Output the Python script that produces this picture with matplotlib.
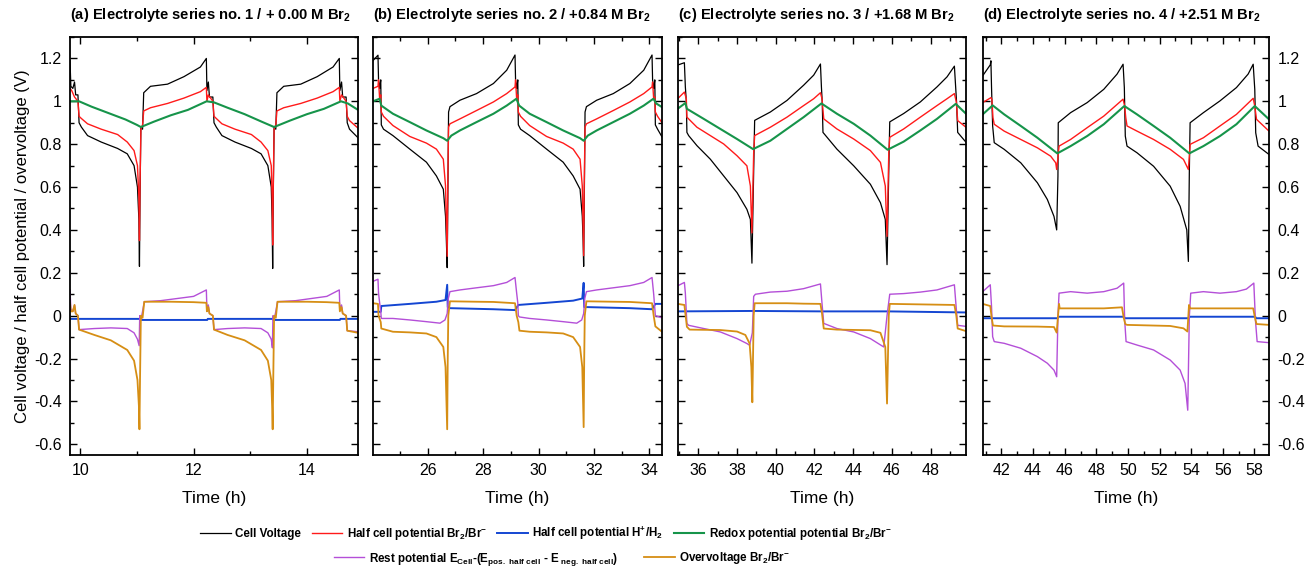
import numpy as np
import matplotlib
matplotlib.use("Agg")
import matplotlib.pyplot as plt
from matplotlib.ticker import MultipleLocator, FormatStrFormatter

plt.rcParams['font.family'] = ['Liberation Sans', 'DejaVu Sans']
plt.rcParams['mathtext.fontset'] = 'custom'
plt.rcParams['mathtext.rm'] = 'Liberation Sans'
plt.rcParams['mathtext.bf'] = 'Liberation Sans:bold'
plt.rcParams['axes.unicode_minus'] = False

# ---- panel (a): electrolyte series no. 1 ----
a_cell = [(9.82, 1.19), (9.835, 1.07), (9.87, 1.06), (9.90, 1.09), (9.92, 1.03), (9.96, 1.03), (9.98, 0.90),
          (10.02, 0.88), (10.13, 0.84), (10.37, 0.81), (10.66, 0.78), (10.83, 0.755), (10.95, 0.70), (11.01, 0.60),
          (11.035, 0.45), (11.045, 0.23), (11.055, 0.55), (11.07, 0.88), (11.10, 0.87), (11.12, 1.04), (11.24, 1.07),
          (11.54, 1.08), (11.83, 1.115), (12.12, 1.16), (12.225, 1.20), (12.235, 1.05), (12.26, 1.09), (12.28, 1.02),
          (12.34, 1.02), (12.36, 0.90), (12.40, 0.88), (12.50, 0.84), (12.73, 0.81), (13.02, 0.78), (13.19, 0.755),
          (13.31, 0.70), (13.37, 0.60), (13.385, 0.45), (13.395, 0.22), (13.405, 0.55), (13.42, 0.88), (13.45, 0.87),
          (13.47, 1.04), (13.59, 1.07), (13.89, 1.08), (14.18, 1.115), (14.46, 1.16), (14.57, 1.20), (14.58, 1.05),
          (14.61, 1.09), (14.63, 1.02), (14.69, 1.02), (14.71, 0.90), (14.75, 0.87), (14.9, 0.83)]
a_half_br = [(9.82, 1.06), (9.85, 1.05), (9.90, 1.02), (9.96, 1.0), (9.98, 0.93), (10.02, 0.92), (10.13, 0.895),
             (10.37, 0.87), (10.66, 0.845), (10.83, 0.81), (10.95, 0.77), (11.01, 0.70), (11.035, 0.55), (11.045, 0.35),
             (11.055, 0.6), (11.07, 0.87), (11.10, 0.89), (11.12, 0.955), (11.24, 0.97), (11.54, 0.99), (11.83, 1.015),
             (12.12, 1.045), (12.225, 1.065), (12.235, 1.0), (12.26, 1.03), (12.34, 1.0), (12.36, 0.93), (12.40, 0.92),
             (12.50, 0.895), (12.73, 0.87), (13.02, 0.845), (13.19, 0.81), (13.31, 0.77), (13.37, 0.70), (13.385, 0.55),
             (13.395, 0.33), (13.405, 0.6), (13.42, 0.87), (13.45, 0.89), (13.47, 0.955), (13.59, 0.97), (13.89, 0.99),
             (14.18, 1.015), (14.46, 1.045), (14.57, 1.065), (14.58, 1.0), (14.61, 1.03), (14.69, 1.0), (14.71, 0.93),
             (14.75, 0.91), (14.9, 0.875)]
a_half_h = [(9.82, -0.015), (11.05, -0.015), (11.06, -0.02), (12.24, -0.02), (12.25, -0.015), (13.40, -0.015),
            (13.41, -0.02), (14.58, -0.02), (14.59, -0.015), (14.9, -0.015)]
a_redox = [(9.82, 1.0), (9.98, 1.0), (10.2, 0.975), (10.5, 0.945), (10.8, 0.915), (11.0, 0.89), (11.07, 0.88),
           (11.3, 0.905), (11.6, 0.935), (11.9, 0.96), (12.23, 1.0), (12.36, 0.995), (12.6, 0.97), (12.9, 0.94),
           (13.2, 0.905), (13.42, 0.88), (13.7, 0.91), (14.0, 0.94), (14.3, 0.965), (14.6, 1.0), (14.72, 0.99),
           (14.9, 0.96)]
a_rest = [(9.82, 0.12), (9.835, 0.03), (9.87, 0.02), (9.90, 0.05), (9.92, 0.01), (9.96, 0.0), (9.98, -0.065),
          (10.25, -0.06), (10.54, -0.057), (10.83, -0.06), (10.95, -0.08), (11.01, -0.11), (11.04, -0.14),
          (11.05, 0.0), (11.07, -0.02), (11.10, 0.02), (11.13, 0.065), (11.42, 0.07), (12.0, 0.09), (12.225, 0.12),
          (12.235, 0.03), (12.26, 0.05), (12.28, 0.01), (12.34, 0.0), (12.36, -0.065), (12.6, -0.06), (12.9, -0.057),
          (13.19, -0.06), (13.31, -0.08), (13.37, -0.11), (13.39, -0.15), (13.40, 0.0), (13.42, -0.02), (13.45, 0.02),
          (13.48, 0.065), (13.8, 0.07), (14.35, 0.09), (14.57, 0.12), (14.58, 0.03), (14.61, 0.05), (14.63, 0.01),
          (14.69, 0.0), (14.71, -0.07), (14.9, -0.075)]
a_over = [(9.82, 0.06), (9.835, 0.02), (9.87, 0.02), (9.90, 0.05), (9.92, 0.01), (9.96, 0.0), (9.98, -0.065),
          (10.25, -0.09), (10.54, -0.115), (10.83, -0.16), (10.95, -0.21), (11.01, -0.30), (11.035, -0.42),
          (11.045, -0.53), (11.055, -0.30), (11.07, 0.0), (11.10, -0.01), (11.13, 0.065), (11.6, 0.065),
          (12.0, 0.063), (12.225, 0.06), (12.235, 0.02), (12.26, 0.04), (12.28, 0.01), (12.34, 0.0), (12.36, -0.065),
          (12.6, -0.09), (12.9, -0.115), (13.19, -0.16), (13.31, -0.21), (13.37, -0.30), (13.385, -0.42),
          (13.395, -0.53), (13.405, -0.30), (13.42, 0.0), (13.45, -0.01), (13.48, 0.065), (14.0, 0.065),
          (14.35, 0.063), (14.57, 0.06), (14.58, 0.02), (14.61, 0.04), (14.63, 0.01), (14.69, 0.0), (14.71, -0.07),
          (14.9, -0.08)]

# ---- panel (b): electrolyte series no. 2 ----
b_cell = [(24.02, 1.19), (24.2, 1.215), (24.22, 1.10), (24.26, 1.06), (24.30, 1.10), (24.32, 0.89), (24.4, 0.87),
          (24.74, 0.84), (25.35, 0.777), (25.95, 0.716), (26.31, 0.652), (26.56, 0.59), (26.64, 0.464), (26.67, 0.35),
          (26.70, 0.224), (26.72, 0.5), (26.75, 0.95), (26.80, 0.975), (27.16, 1.005), (27.76, 1.036), (28.37, 1.083),
          (28.85, 1.145), (29.15, 1.216), (29.17, 1.10), (29.21, 1.06), (29.25, 1.10), (29.27, 0.89), (29.35, 0.87),
          (29.68, 0.84), (30.29, 0.777), (30.89, 0.716), (31.25, 0.652), (31.50, 0.59), (31.58, 0.464), (31.61, 0.35),
          (31.63, 0.23), (31.65, 0.5), (31.68, 0.95), (31.73, 0.975), (32.1, 1.005), (32.7, 1.036), (33.3, 1.083),
          (33.8, 1.145), (34.1, 1.216), (34.12, 1.10), (34.16, 1.06), (34.2, 1.10), (34.22, 0.89), (34.3, 0.87),
          (34.46, 0.834)]
b_half_br = [(24.02, 1.06), (24.2, 1.07), (24.22, 1.10), (24.26, 1.01), (24.30, 1.03), (24.32, 0.95), (24.4, 0.93),
             (24.74, 0.887), (25.35, 0.836), (25.95, 0.805), (26.31, 0.777), (26.56, 0.73), (26.64, 0.605),
             (26.70, 0.277), (26.72, 0.6), (26.75, 0.88), (26.80, 0.895), (27.16, 0.918), (27.76, 0.957),
             (28.37, 0.997), (28.85, 1.036), (29.15, 1.067), (29.17, 1.10), (29.21, 1.01), (29.25, 1.03), (29.27, 0.95),
             (29.35, 0.93), (29.68, 0.887), (30.29, 0.836), (30.89, 0.805), (31.25, 0.777), (31.50, 0.73),
             (31.58, 0.605), (31.63, 0.28), (31.65, 0.6), (31.68, 0.88), (31.73, 0.895), (32.1, 0.918), (32.7, 0.957),
             (33.3, 0.997), (33.8, 1.036), (34.1, 1.067), (34.12, 1.09), (34.16, 1.01), (34.2, 1.02), (34.22, 0.95),
             (34.3, 0.93), (34.46, 0.90)]
b_half_h = [(24.02, 0.018), (24.30, 0.018), (24.32, 0.045), (25.35, 0.055), (26.31, 0.065), (26.64, 0.073),
            (26.70, 0.144), (26.72, 0.04), (26.80, 0.035), (28.37, 0.03), (29.15, 0.026), (29.27, 0.05),
            (30.29, 0.06), (31.25, 0.07), (31.58, 0.08), (31.63, 0.153), (31.65, 0.04), (31.75, 0.04), (33.3, 0.035),
            (34.1, 0.03), (34.22, 0.055), (34.46, 0.055)]
b_redox = [(24.02, 1.0), (24.26, 1.012), (24.32, 0.98), (24.74, 0.942), (25.35, 0.903), (25.95, 0.864),
           (26.56, 0.828), (26.70, 0.816), (26.85, 0.84), (27.16, 0.864), (27.76, 0.903), (28.37, 0.942),
           (28.85, 0.98), (29.2, 1.012), (29.3, 0.98), (29.68, 0.942), (30.29, 0.903), (30.89, 0.864), (31.50, 0.828),
           (31.63, 0.816), (31.78, 0.84), (32.1, 0.864), (32.7, 0.903), (33.3, 0.942), (33.8, 0.98), (34.15, 1.012),
           (34.25, 0.99), (34.46, 0.973)]
b_rest = [(24.02, 0.16), (24.2, 0.17), (24.22, 0.105), (24.26, 0.06), (24.30, 0.02), (24.32, -0.013),
          (24.74, -0.013), (25.35, -0.02), (25.95, -0.028), (26.44, -0.035), (26.62, -0.02), (26.70, 0.01),
          (26.74, 0.08), (26.80, 0.112), (27.16, 0.12), (27.76, 0.13), (28.37, 0.14), (28.85, 0.155), (29.15, 0.178),
          (29.21, 0.105), (29.25, 0.06), (29.27, 0.0), (29.31, -0.006), (29.68, -0.013), (30.29, -0.02),
          (30.89, -0.028), (31.38, -0.035), (31.56, -0.02), (31.63, 0.01), (31.67, 0.08), (31.73, 0.112),
          (32.1, 0.12), (32.7, 0.13), (33.3, 0.14), (33.8, 0.155), (34.1, 0.178), (34.16, 0.1), (34.22, 0.0),
          (34.46, -0.01)]
b_over = [(24.02, 0.058), (24.2, 0.055), (24.22, 0.0), (24.30, -0.03), (24.32, -0.06), (24.74, -0.075),
          (25.35, -0.078), (25.95, -0.083), (26.31, -0.10), (26.56, -0.146), (26.64, -0.24), (26.70, -0.53),
          (26.72, -0.2), (26.74, 0.0), (26.80, 0.067), (27.76, 0.065), (28.37, 0.064), (29.15, 0.058), (29.21, 0.0),
          (29.27, -0.03), (29.31, -0.07), (29.68, -0.075), (30.29, -0.078), (30.89, -0.083), (31.25, -0.10),
          (31.50, -0.146), (31.58, -0.24), (31.63, -0.52), (31.65, -0.2), (31.67, 0.0), (31.73, 0.067),
          (32.7, 0.065), (33.3, 0.064), (34.1, 0.058), (34.16, 0.0), (34.22, -0.05), (34.46, -0.075)]

# ---- panel (c): electrolyte series no. 3 ----
c_cell = [(34.93, 1.169), (35.28, 1.18), (35.33, 1.067), (35.38, 1.0), (35.41, 0.855), (35.5, 0.84),
          (35.93, 0.793), (36.62, 0.73), (37.31, 0.652), (38.0, 0.574), (38.51, 0.496), (38.69, 0.449),
          (38.77, 0.245), (38.86, 0.676), (38.91, 0.911), (39.72, 0.95), (40.58, 1.004), (41.44, 1.075),
          (41.96, 1.122), (42.31, 1.174), (42.36, 1.067), (42.40, 1.0), (42.44, 0.855), (43.16, 0.777),
          (44.03, 0.699), (44.89, 0.613), (45.41, 0.527), (45.66, 0.449), (45.75, 0.238), (45.84, 0.676),
          (45.89, 0.904), (46.61, 0.943), (47.47, 0.997), (48.33, 1.067), (48.85, 1.114), (49.23, 1.164),
          (49.30, 1.06), (49.34, 1.0), (49.40, 0.855), (49.83, 0.809)]
c_half_br = [(34.93, 1.012), (35.28, 1.043), (35.38, 1.012), (35.41, 0.926), (35.93, 0.879), (36.62, 0.84),
             (37.31, 0.801), (38.0, 0.746), (38.51, 0.699), (38.69, 0.605), (38.77, 0.386), (38.86, 0.76),
             (38.91, 0.84), (39.72, 0.879), (40.58, 0.926), (41.44, 0.98), (41.96, 1.012), (42.31, 1.04),
             (42.39, 1.012), (42.48, 0.918), (43.16, 0.871), (44.03, 0.824), (44.89, 0.77), (45.41, 0.715),
             (45.66, 0.605), (45.75, 0.37), (45.84, 0.76), (45.89, 0.832), (46.61, 0.871), (47.47, 0.926),
             (48.33, 0.98), (48.85, 1.012), (49.23, 1.036), (49.33, 0.997), (49.40, 0.91), (49.83, 0.879)]
c_half_h = [(34.93, 0.02), (38.8, 0.022), (42.4, 0.02), (45.8, 0.02), (49.83, 0.015)]
c_redox = [(34.93, 0.965), (35.33, 0.992), (35.41, 0.965), (36.28, 0.918), (37.14, 0.871), (38.0, 0.824),
           (38.83, 0.777), (39.72, 0.816), (40.58, 0.871), (41.44, 0.926), (42.36, 0.99), (43.16, 0.942),
           (44.03, 0.895), (44.89, 0.84), (45.78, 0.774), (46.61, 0.812), (47.47, 0.864), (48.33, 0.918),
           (49.30, 0.988), (49.83, 0.942)]
c_rest = [(34.93, 0.139), (35.28, 0.155), (35.33, 0.105), (35.41, -0.036), (35.5, -0.045), (36.28, -0.06),
          (37.14, -0.076), (38.0, -0.107), (38.51, -0.13), (38.65, -0.138), (38.79, -0.08), (38.86, 0.09),
          (38.95, 0.1), (39.72, 0.11), (40.58, 0.114), (41.44, 0.126), (42.31, 0.148), (42.39, 0.058),
          (42.48, -0.036), (43.16, -0.06), (44.03, -0.076), (44.89, -0.107), (45.58, -0.146), (45.75, 0.0),
          (45.89, 0.1), (46.61, 0.103), (47.47, 0.11), (48.33, 0.12), (49.23, 0.144), (49.33, 0.03),
          (49.40, -0.045), (49.83, -0.05)]
c_over = [(34.93, 0.055), (35.28, 0.05), (35.33, 0.01), (35.41, -0.052), (35.55, -0.065), (36.28, -0.066),
          (37.14, -0.067), (38.0, -0.074), (38.43, -0.09), (38.65, -0.13), (38.74, -0.24), (38.79, -0.404),
          (38.86, 0.0), (38.91, 0.058), (40.58, 0.058), (41.44, 0.056), (42.31, 0.055), (42.39, 0.01),
          (42.48, -0.06), (43.16, -0.065), (44.89, -0.068), (45.41, -0.08), (45.66, -0.146), (45.75, -0.41),
          (45.84, 0.0), (45.89, 0.055), (49.23, 0.05), (49.33, 0.0), (49.40, -0.06), (49.83, -0.072)]

# ---- panel (d): electrolyte series no. 4 ----
d_cell = [(40.81, 1.119), (41.29, 1.17), (41.33, 1.189), (41.37, 1.064), (41.44, 0.885), (41.54, 0.807),
          (42.17, 0.776), (43.22, 0.713), (44.27, 0.62), (44.9, 0.542), (45.32, 0.463), (45.49, 0.4), (45.57, 0.65),
          (45.59, 0.9), (46.37, 0.947), (47.42, 0.994), (48.47, 1.056), (49.31, 1.127), (49.69, 1.173),
          (49.77, 1.064), (49.83, 0.838), (49.94, 0.791), (50.57, 0.76), (51.62, 0.697), (52.67, 0.604),
          (53.3, 0.51), (53.72, 0.4), (53.82, 0.253), (53.88, 0.666), (53.93, 0.9), (54.77, 0.947), (55.82, 1.002),
          (56.86, 1.064), (57.6, 1.127), (57.92, 1.173), (58.02, 1.056), (58.08, 0.853), (58.23, 0.791),
          (58.92, 0.752)]
d_half_br = [(40.81, 0.994), (41.33, 1.017), (41.39, 1.01), (41.46, 0.924), (41.54, 0.893), (42.17, 0.861),
             (43.22, 0.822), (44.27, 0.783), (45.11, 0.744), (45.43, 0.713), (45.49, 0.682), (45.57, 0.737),
             (45.64, 0.791), (46.37, 0.822), (47.42, 0.877), (48.47, 0.931), (49.69, 1.01), (49.79, 0.978),
             (49.86, 0.924), (49.94, 0.885), (50.57, 0.861), (51.62, 0.822), (52.67, 0.776), (53.51, 0.729),
             (53.82, 0.682), (53.88, 0.744), (53.93, 0.799), (54.77, 0.83), (55.82, 0.885), (56.86, 0.939),
             (57.92, 1.014), (58.02, 0.978), (58.13, 0.916), (58.92, 0.861)]
d_half_h = [(40.81, -0.012), (45.55, -0.012), (45.6, -0.005), (49.75, -0.005), (49.8, -0.012), (53.85, -0.012),
            (53.9, -0.005), (58.05, -0.005), (58.1, -0.012), (58.92, -0.012)]
d_redox = [(40.81, 0.939), (41.44, 0.981), (42.17, 0.939), (43.22, 0.885), (44.27, 0.83), (45.53, 0.757),
           (46.37, 0.791), (47.42, 0.838), (48.47, 0.893), (49.77, 0.978), (50.57, 0.939), (51.62, 0.885),
           (52.67, 0.83), (53.88, 0.757), (54.77, 0.791), (55.82, 0.838), (56.86, 0.893), (58.02, 0.978),
           (58.92, 0.916)]
d_rest = [(40.81, 0.112), (41.29, 0.144), (41.37, 0.042), (41.44, -0.098), (41.54, -0.121), (42.17, -0.129),
          (43.22, -0.152), (44.27, -0.191), (44.9, -0.222), (45.32, -0.254), (45.49, -0.285), (45.57, -0.005),
          (45.64, 0.105), (46.37, 0.112), (47.42, 0.105), (48.47, 0.112), (49.31, 0.128), (49.73, 0.152),
          (49.79, -0.02), (49.88, -0.121), (50.57, -0.137), (51.62, -0.16), (52.67, -0.207), (53.3, -0.254),
          (53.61, -0.316), (53.78, -0.441), (53.88, -0.005), (53.97, 0.105), (54.77, 0.112), (55.82, 0.105),
          (56.86, 0.112), (57.49, 0.124), (57.96, 0.152), (58.06, -0.02), (58.17, -0.121), (58.92, -0.126)]
d_over = [(40.81, 0.055), (41.29, 0.045), (41.37, -0.005), (41.46, -0.046), (42.17, -0.05), (44.27, -0.051),
          (45.32, -0.053), (45.49, -0.079), (45.57, -0.005), (45.64, 0.055), (45.68, 0.034), (46.37, 0.034),
          (48.47, 0.034), (49.62, 0.039), (49.73, -0.01), (49.83, -0.039), (49.94, -0.043), (52.67, -0.048),
          (53.51, -0.059), (53.76, -0.074), (53.86, 0.05), (53.93, 0.034), (57.92, 0.034), (58.02, -0.005),
          (58.13, -0.039), (58.92, -0.043)]

titles = [r"(a) Electrolyte series no. 1 / + 0.00 M Br$_\mathbf{2}$",
          r"(b) Electrolyte series no. 2 / +0.84 M Br$_\mathbf{2}$",
          r"(c) Electrolyte series no. 3 / +1.68 M Br$_\mathbf{2}$",
          r"(d) Electrolyte series no. 4 / +2.51 M Br$_\mathbf{2}$"]
xlims = [(9.82, 14.9), (24.02, 34.46), (34.95, 49.83), (40.83, 58.92)]
xticks = [[10, 12, 14], [26, 28, 30, 32, 34], [36, 38, 40, 42, 44, 46, 48],
          [42, 44, 46, 48, 50, 52, 54, 56, 58]]

labels = ["Cell Voltage",
          r"Half cell potential Br$_\mathbf{2}$/Br$^\mathbf{-}$",
          r"Half cell potential H$^\mathbf{+}$/H$_\mathbf{2}$",
          r"Redox potential potential Br$_\mathbf{2}$/Br$^\mathbf{-}$",
          r"Rest potential E$_\mathbf{Cell}$-(E$_\mathbf{pos.\ half\ cell}$ - E$_\mathbf{\ neg.\ half\ cell}$)",
          r"Overvoltage Br$_\mathbf{2}$/Br$^\mathbf{-}$"]
colors = ["#000000", "#ff1a1a", "#1446d2", "#16944a", "#b44fd8", "#d68e14"]
widths = [0.9, 1.0, 1.4, 1.5, 1.0, 1.3]

panels = [
    [a_cell, a_half_br, a_half_h, a_redox, a_rest, a_over],
    [b_cell, b_half_br, b_half_h, b_redox, b_rest, b_over],
    [c_cell, c_half_br, c_half_h, c_redox, c_rest, c_over],
    [d_cell, d_half_br, d_half_h, d_redox, d_rest, d_over],
]

W, H = 1305, 568
fig = plt.figure(figsize=(W / 100, H / 100), dpi=100)
fig.patch.set_facecolor("white")
edges = [(70, 358), (373, 662), (678, 966), (983, 1269)]
top, bottom = 37, 455

handles = []
for i, series in enumerate(panels):
    x0, x1 = edges[i]
    ax = fig.add_axes([x0 / W, 1 - bottom / H, (x1 - x0) / W, (bottom - top) / H])
    for k, pts in enumerate(series):
        arr = np.array(pts)
        ln, = ax.plot(arr[:, 0], arr[:, 1], color=colors[k], lw=widths[k], label=labels[k])
        if i == 0:
            handles.append(ln)
    ax.set_xlim(*xlims[i])
    ax.set_ylim(-0.65, 1.3)
    ax.set_xticks(xticks[i])
    ax.xaxis.set_minor_locator(MultipleLocator(1))
    ax.yaxis.set_major_locator(MultipleLocator(0.2))
    ax.yaxis.set_minor_locator(MultipleLocator(0.1))
    ax.yaxis.set_major_formatter(FormatStrFormatter('%g'))
    ax.tick_params(which='both', direction='in', top=True, right=True, labelsize=11.5,
                   width=1.0, pad=6)
    ax.tick_params(which='major', length=5)
    ax.tick_params(which='minor', length=3)
    ax.tick_params(axis='y', labelleft=(i == 0), labelright=(i == 3))
    for s in ax.spines.values():
        s.set_linewidth(1.3)
    ax.set_xlabel("Time (h)", fontsize=12.5, labelpad=9)
    ax.text(0.0, 1.03, titles[i], transform=ax.transAxes, ha='left', va='bottom',
            fontsize=10.6, fontweight='bold')
    if i == 0:
        ax.set_ylabel("Cell voltage / half cell potential / overvoltage (V)", fontsize=12, labelpad=3)

legend_font = {'weight': 'bold', 'size': 8.4}
fig.legend(handles[:4], labels[:4], loc='center', bbox_to_anchor=(546 / W, 1 - 533 / H), ncol=4,
           frameon=False, prop=legend_font, handlelength=2.6, columnspacing=0.9, handletextpad=0.4)
fig.legend(handles[4:], labels[4:], loc='center', bbox_to_anchor=(562 / W, 1 - 559 / H), ncol=2,
           frameon=False, prop=legend_font, handlelength=2.6, columnspacing=2.3, handletextpad=0.4)

fig.savefig("out.png", dpi=100)
